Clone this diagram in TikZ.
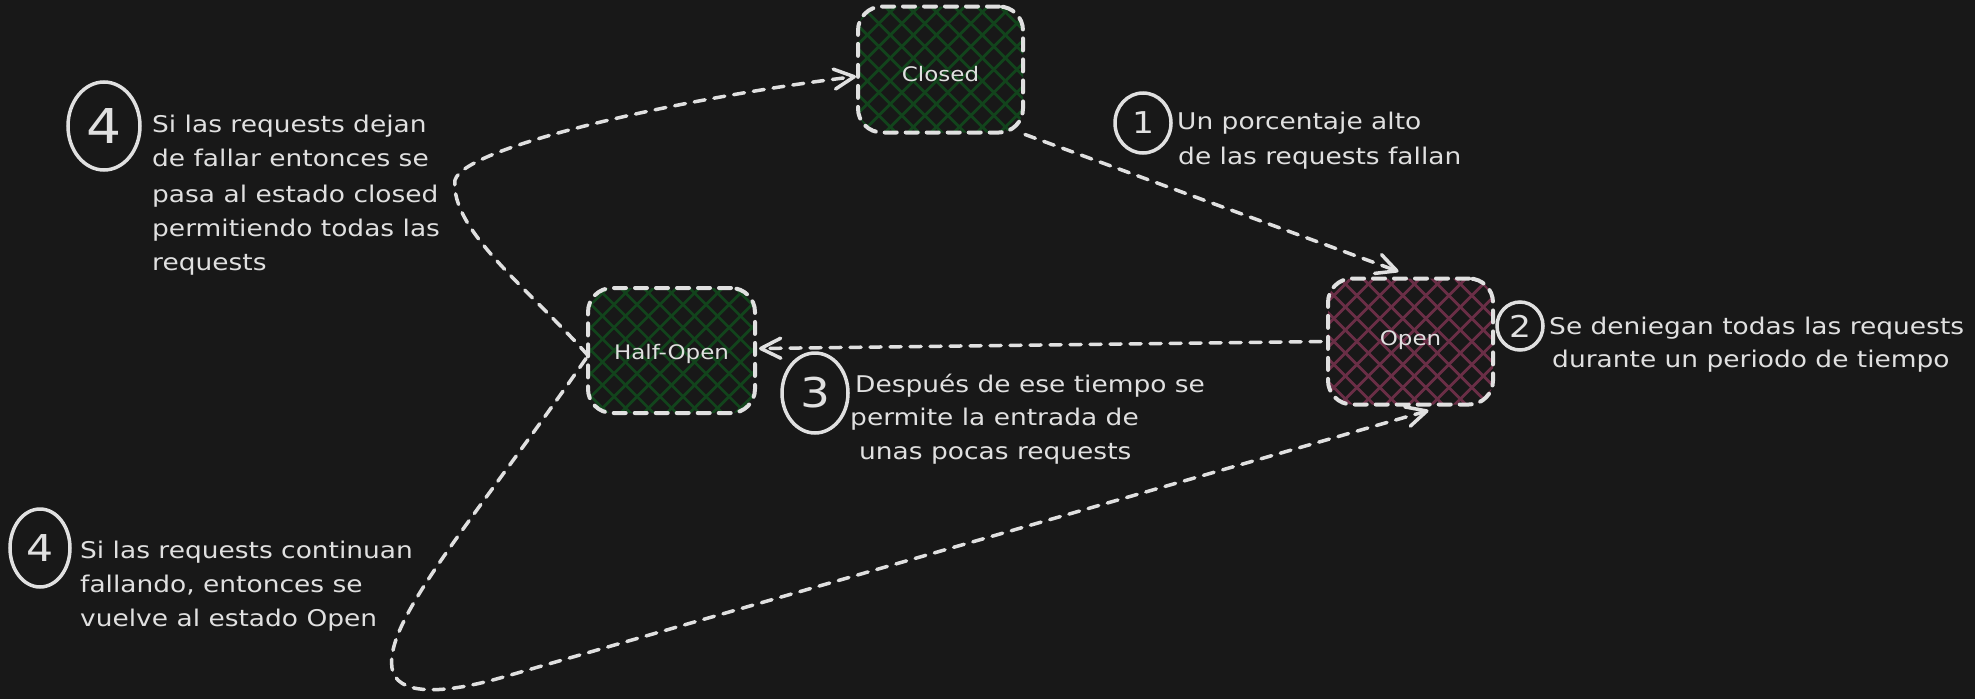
\documentclass[tikz,border=0pt]{standalone}
\usepackage{fontspec}
\setmainfont{DejaVu Sans}[FakeStretch=1.15]
\usetikzlibrary{arrows.meta,shapes.geometric}
\definecolor{bgc}{RGB}{24,24,24}
\definecolor{ink}{RGB}{224,224,224}
\definecolor{hgreen}{RGB}{18,68,28}
\definecolor{hred}{RGB}{106,46,70}
\begin{document}
\begin{tikzpicture}[x=1pt,y=-1pt,
  hatchfill/.style={path picture={
    \begin{scope}[shift={(path picture bounding box.center)}]
    \foreach \k in {-14,...,14}{
      \draw[#1,line width=2.8pt,solid,sharp corners] (\k*23-160,-160) -- ++(320,320);
      \draw[#1,line width=2.8pt,solid,sharp corners] (\k*23-160,160) -- ++(320,-320);
    }
    \end{scope}}},
  statebox/.style={draw=ink, line width=4pt, dash pattern=on 12pt off 9pt,
    line cap=round, rounded corners=24pt, minimum width=165pt,
    minimum height=126pt, inner sep=0pt, text=ink,
    font=\fontsize{20}{24}\selectfont},
  conn/.style={draw=ink, line width=3.5pt, dash pattern=on 11pt off 9pt,
    line cap=round,
    -{Straight Barb[length=20pt,width=20pt,line width=3.5pt,round]}},
  numc/.style={ellipse, draw=ink, line width=3.5pt, inner sep=0pt, text=ink},
  lbl/.style={anchor=base west, inner sep=0pt, text=ink,
    font=\fontsize{23}{34}\selectfont}
]
\fill[bgc] (0,0) rectangle (1975,699);
\useasboundingbox (0,0) rectangle (1975,699);

% states
\node[statebox, hatchfill=hgreen] (closed) at (940.5,69.5) {\raisebox{-12pt}[0pt][0pt]{Closed}};
\node[statebox, hatchfill=hred] (open) at (1410.5,341.5) {\raisebox{-4pt}[0pt][0pt]{Open}};
\node[statebox, hatchfill=hgreen, minimum width=167pt, minimum height=125pt] (halfopen) at (671.5,350.5) {\raisebox{-9pt}[0pt][0pt]{Half-Open}};

% connectors
\draw[conn] (closed.south east) -- ([xshift=-12pt,yshift=5pt]open.north);
\draw[conn] ([xshift=-5pt]open.west) -- ([xshift=2pt,yshift=2pt]halfopen.east);
\draw[conn] ([xshift=2pt,yshift=-5pt]halfopen.west)
  .. controls (530,290) and (450,230) .. (455,180)
  .. controls (465,145) and (700,95) .. ([yshift=-7pt]closed.west);
\draw[conn] ([yshift=-8pt]halfopen.west)
  .. controls (470,525) and (385,620) .. (392,668)
  .. controls (396,695) and (440,695) .. (500,678)
  -- ([xshift=18pt,yshift=-4pt]open.south);

% numbered markers
\node[numc, minimum width=56pt, minimum height=60pt, font=\fontsize{30}{30}\selectfont] (n1) at (1143,123) {1};
\node[numc, minimum width=46pt, minimum height=48pt, font=\fontsize{30}{30}\selectfont] (n2) at (1520,326) {2};
\node[numc, minimum width=66pt, minimum height=80pt, font=\fontsize{41}{41}\selectfont] (n3) at (815,393) {3};
\node[numc, minimum width=72pt, minimum height=88pt, font=\fontsize{48}{48}\selectfont] (n4a) at (104,126) {4};
\node[numc, minimum width=60pt, minimum height=78pt, font=\fontsize{37}{37}\selectfont] (n4b) at (40,548) {4};

% texts
\node[lbl] (t1a) at (1177,129) {Un porcentaje alto};
\node[lbl] (t1b) at (1178,164) {de las requests fallan};

\node[lbl] (t2a) at (1549,334) {Se deniegan todas las requests};
\node[lbl] (t2b) at (1552,367) {durante un periodo de tiempo};

\node[lbl] (t3a) at (855,392) {Después de ese tiempo se};
\node[lbl] (t3b) at (850,425) {permite la entrada de};
\node[lbl] (t3c) at (859,459) {unas pocas requests};

\node[lbl] (t4a) at (152,132) {Si las requests dejan};
\node[lbl] (t4b) at (152,166) {de fallar entonces se};
\node[lbl] (t4c) at (152,202) {pasa al estado closed};
\node[lbl] (t4d) at (152,236) {permitiendo todas las};
\node[lbl] (t4e) at (152,270) {requests};

\node[lbl] (t5a) at (80,558) {Si las requests continuan};
\node[lbl] (t5b) at (80,592) {fallando, entonces se};
\node[lbl] (t5c) at (80,626) {vuelve al estado Open};
\end{tikzpicture}
\end{document}
